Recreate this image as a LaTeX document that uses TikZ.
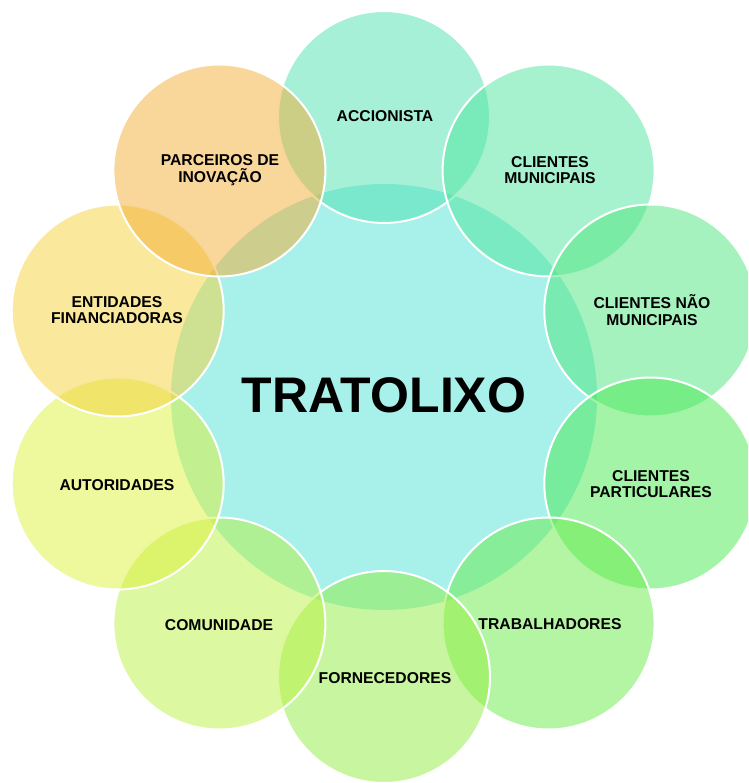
\documentclass[tikz,border=0pt]{standalone}
\usepackage{fontspec}
\setmainfont{Liberation Sans}
\definecolor{hubcol}{RGB}{168,240,234}
\definecolor{col0}{RGB}{77,225,177}
\definecolor{col1}{RGB}{77,229,157}
\definecolor{col2}{RGB}{77,229,125}
\definecolor{col3}{RGB}{73,233,81}
\definecolor{col4}{RGB}{105,235,73}
\definecolor{col5}{RGB}{145,237,65}
\definecolor{col6}{RGB}{185,241,65}
\definecolor{col7}{RGB}{221,241,57}
\definecolor{col8}{RGB}{245,209,57}
\definecolor{col9}{RGB}{243,173,51}
\tikzset{
  hubdisc/.style={circle, inner sep=0pt, outer sep=0pt, minimum size=426pt, fill=hubcol},
  bubble/.style={circle, inner sep=0pt, outer sep=0pt, minimum size=212pt,
    fill=#1, fill opacity=0.5, draw=white, draw opacity=1, line width=2pt},
  lbl/.style={align=center, text=black, inner sep=0pt,
    font=\fontsize{15.7}{16.7}\selectfont\bfseries},
  hublbl/.style={text=black, inner sep=0pt, font=\fontsize{50}{56}\selectfont\bfseries}
}
\begin{document}
\begin{tikzpicture}[x=1pt,y=-1pt]
\useasboundingbox (0,0) rectangle (748,783);
\clip (0,0) rectangle (748,783);
\node[hubdisc] (hub) at (384,397) {};
\node[bubble=col0] (c0) at (384.0,117.0) {};
\node[bubble=col1] (c1) at (548.6,170.5) {};
\node[bubble=col2] (c2) at (650.3,310.5) {};
\node[bubble=col3] (c3) at (650.3,483.5) {};
\node[bubble=col4] (c4) at (548.6,623.5) {};
\node[bubble=col5] (c5) at (384.0,677.0) {};
\node[bubble=col6] (c6) at (219.4,623.5) {};
\node[bubble=col7] (c7) at (117.7,483.5) {};
\node[bubble=col8] (c8) at (117.7,310.5) {};
\node[bubble=col9] (c9) at (219.4,170.5) {};
\node[hublbl] (t) at (384,395) {TRATOLIXO};
\node[lbl] (l0) at (385,116) {ACCIONISTA};
\node[lbl] (l1) at (550,170) {CLIENTES\\MUNICIPAIS};
\node[lbl] (l2) at (652,310) {CLIENTES NÃO\\MUNICIPAIS};
\node[lbl] (l3) at (651,484) {CLIENTES\\PARTICULARES};
\node[lbl] (l4) at (550,624) {TRABALHADORES};
\node[lbl] (l5) at (385,678) {FORNECEDORES};
\node[lbl] (l6) at (219,625) {COMUNIDADE};
\node[lbl] (l7) at (117,485) {AUTORIDADES};
\node[lbl] (l8) at (117,310) {ENTIDADES\\FINANCIADORAS};
\node[lbl] (l9) at (220,170) {PARCEIROS DE\\INOVAÇÃO};
\end{tikzpicture}
\end{document}
